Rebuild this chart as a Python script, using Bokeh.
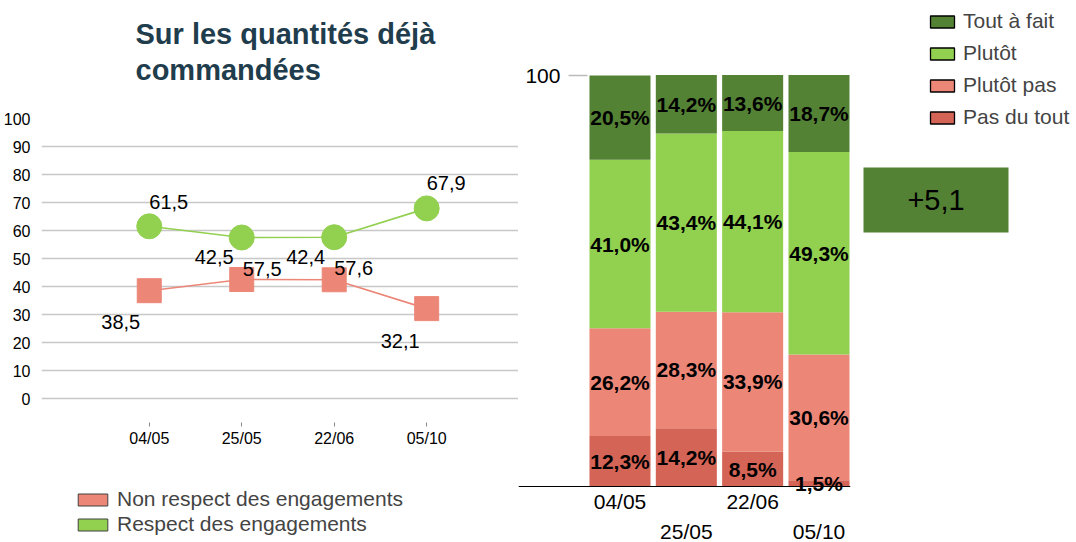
import numpy as np
from bokeh.plotting import figure
from bokeh.models import (ColumnDataSource, Range1d, LinearAxis, FixedTicker,
                          Legend, LegendItem, Label, BoxAnnotation)
from bokeh.layouts import row, column
from bokeh.embed import file_html
from bokeh.resources import INLINE
from bokeh.core.properties import value

# ---------------- data ----------------
title_lines = ["Sur les quantités déjà", "commandées"]
dates = ["04/05", "25/05", "22/06", "05/10"]
respect = [61.5, 57.5, 57.6, 67.9]
non_respect = [38.5, 42.5, 42.4, 32.1]
left_y_ticks = [0, 10, 20, 30, 40, 50, 60, 70, 80, 90, 100]
left_legend_labels = ["Non respect des engagements", "Respect des engagements"]

bar_series = ["Pas du tout", "Plutôt pas", "Plutôt", "Tout à fait"]
pas_du_tout = [12.3, 14.2, 8.5, 1.5]
plutot_pas = [26.2, 28.3, 33.9, 30.6]
plutot = [41.0, 43.4, 44.1, 49.3]
tout_a_fait = [20.5, 14.2, 13.6, 18.7]
right_y_ticks = [100]
delta_label = "+5,1"

# ---------------- styles ----------------
GREEN = "#92D050"
DKGREEN = "#548235"
SALMON = "#EC8778"
DKSALMON = "#D46456"
FONT = "Liberation Sans"
NAN = float("nan")


def fr(v):
    return f"{v:.1f}".replace(".", ",")


def blank(w, h):
    p = figure(width=w, height=h, x_range=Range1d(0, w), y_range=Range1d(h, 0),
               x_axis_type=None, y_axis_type=None, output_backend="svg",
               toolbar_location=None, min_border=0, frame_align=False)
    p.outline_line_color = None
    return p


xs = list(range(1, len(dates) + 1))

# ---------------- title ----------------
pT = blank(518, 110)
for line, yy in zip(title_lines, [33, 69]):
    pT.add_layout(Label(x=135, y=yy, text=line, text_font=FONT, text_font_size="29px",
                        text_font_style="bold", text_color="#1F3D4D",
                        text_baseline="alphabetic"))

# ---------------- left chart ----------------
pL = figure(width=518, height=360, x_range=Range1d(-0.1654, 4.993),
            y_range=Range1d(-8.571, 100), output_backend="svg",
            toolbar_location=None, min_border_left=40, min_border_right=0,
            min_border_top=8, min_border_bottom=48, frame_align=False)
pL.outline_line_color = None
pL.xgrid.visible = False
pL.ygrid.ticker = FixedTicker(ticks=left_y_ticks)
pL.ygrid.grid_line_color = "#c8c8c8"
pL.ygrid.grid_line_width = 1.3

pL.yaxis.ticker = FixedTicker(ticks=left_y_ticks)
pL.yaxis.axis_line_color = None
pL.yaxis.major_tick_line_color = None
pL.yaxis.minor_tick_line_color = None
pL.yaxis.major_label_standoff = 5
pL.yaxis.major_label_text_font = FONT
pL.yaxis.major_label_text_font_size = "16px"
pL.yaxis.major_label_text_color = "black"

pL.xaxis.ticker = FixedTicker(ticks=xs)
pL.xaxis.major_label_overrides = {x: d for x, d in zip(xs, dates)}
pL.xaxis.axis_line_color = None
pL.xaxis.major_tick_in = 0
pL.xaxis.major_tick_out = 4
pL.xaxis.major_tick_line_color = "#888888"
pL.xaxis.minor_tick_line_color = None
pL.xaxis.major_label_standoff = 3
pL.xaxis.major_label_text_font = FONT
pL.xaxis.major_label_text_font_size = "16px"
pL.xaxis.major_label_text_color = "black"

pL.line(xs, respect, line_color=GREEN, line_width=1.6)
pL.line(xs, non_respect, line_color=SALMON, line_width=1.6)
pL.scatter(xs, respect, marker="circle", size=25, fill_color=GREEN, line_color=GREEN)
pL.scatter(xs, non_respect, marker="square", size=24, fill_color=SALMON, line_color=SALMON)

# label placement (screen offsets)
g_off_y = [-24, 31, 31, -25]
r_off_y = [31, -23, -23, 32]
lab_src = ColumnDataSource(dict(
    x=xs + xs,
    y=respect + non_respect,
    t=[fr(v) for v in respect] + [fr(v) for v in non_respect],
    xo=[0, 1, 0, 0] + [-48, -47, -48, -46],
    yo=g_off_y + r_off_y,
))
pL.text(x="x", y="y", text="t", x_offset="xo", y_offset="yo", source=lab_src,
        text_font=value(FONT), text_font_size="20px", text_color="black",
        text_align="left", text_baseline="alphabetic")

# ---------------- left legend ----------------
pLeg = blank(518, 72)
dl1 = pLeg.vbar(x=[NAN], top=[NAN], width=1, fill_color=SALMON, line_color="#404040", line_width=1)
dl2 = pLeg.vbar(x=[NAN], top=[NAN], width=1, fill_color=GREEN, line_color="#404040", line_width=1)
legL = Legend(items=[LegendItem(label=left_legend_labels[0], renderers=[dl1]),
                     LegendItem(label=left_legend_labels[1], renderers=[dl2])],
              location=(74, 6), glyph_width=37, glyph_height=15,
              label_text_font=FONT, label_text_font_size="21px", label_standoff=6,
              label_height=15, spacing=1, padding=0, margin=0,
              border_line_color=None, background_fill_alpha=0)
pLeg.add_layout(legL)

# ---------------- right chart ----------------
pR = figure(width=340, height=542, x_range=Range1d(-0.530, 4.475),
            y_range=Range1d(-13.625, 103.65), x_axis_type=None, y_axis_type=None,
            output_backend="svg", toolbar_location=None, frame_align=False,
            min_border_left=0, min_border_right=8, min_border_top=60, min_border_bottom=0)
pR.outline_line_color = None

src = ColumnDataSource(dict(x=xs, pas_du_tout=pas_du_tout, plutot_pas=plutot_pas,
                            plutot=plutot, tout_a_fait=tout_a_fait))
keys = ["pas_du_tout", "plutot_pas", "plutot", "tout_a_fait"]
pR.vbar_stack(keys, x="x", width=0.92, source=src,
              fill_color=[DKSALMON, SALMON, GREEN, DKGREEN], line_color=None)

stack = np.array([pas_du_tout, plutot_pas, plutot, tout_a_fait])
tops = np.cumsum(stack, axis=0)
mids = tops - stack / 2
bl = ColumnDataSource(dict(
    x=[x for _ in range(4) for x in xs],
    y=[float(m) for rowv in mids for m in rowv],
    t=[fr(v) + "%" for rowv in stack for v in rowv],
))
pR.text(x="x", y="y", text="t", source=bl, text_font=value(FONT),
        text_font_size="21px", text_font_style="bold", text_color="black",
        text_align="center", text_baseline="middle")

ax1 = LinearAxis(fixed_location=0, ticker=FixedTicker(ticks=xs[0::2]),
                 major_label_overrides={x: dates[x - 1] for x in xs[0::2]},
                 axis_line_color="black", axis_line_width=1.2,
                 major_tick_in=0, major_tick_out=0, minor_tick_line_color=None,
                 major_label_standoff=3, major_label_text_font=FONT,
                 major_label_text_font_size="21px", major_label_text_color="black")
ax2 = LinearAxis(fixed_location=0, ticker=FixedTicker(ticks=xs[1::2]),
                 major_label_overrides={x: dates[x - 1] for x in xs[1::2]},
                 axis_line_color=None,
                 major_tick_in=0, major_tick_out=0, minor_tick_line_color=None,
                 major_label_standoff=33, major_label_text_font=FONT,
                 major_label_text_font_size="21px", major_label_text_color="black")
pR.add_layout(ax1, "below")
pR.add_layout(ax2, "below")
ay = LinearAxis(fixed_location=0.51, ticker=FixedTicker(ticks=right_y_ticks),
                axis_line_color=None, major_tick_in=0, major_tick_out=19,
                major_tick_line_color="#bbbbbb", major_tick_line_width=1.5,
                minor_tick_line_color=None, major_label_standoff=8,
                major_label_text_font=FONT, major_label_text_font_size="21px",
                major_label_text_color="black")
pR.add_layout(ay, "left")

# ---------------- legend + delta box ----------------
pG = blank(218, 542)
colors = {"Pas du tout": DKSALMON, "Plutôt pas": SALMON, "Plutôt": GREEN, "Tout à fait": DKGREEN}
items = []
for name in reversed(bar_series):
    r = pG.vbar(x=[NAN], top=[NAN], width=1, fill_color=colors[name],
                line_color="black", line_width=1.3)
    items.append(LegendItem(label=name, renderers=[r]))
legG = Legend(items=items, location=(69, 413), glyph_width=30, glyph_height=15,
              label_text_font=FONT, label_text_font_size="21px", label_standoff=6,
              label_height=15, spacing=8, padding=0, margin=0,
              border_line_color=None, background_fill_alpha=0)
pG.add_layout(legG)
pG.add_layout(BoxAnnotation(left=5, right=150, top=167, bottom=232,
                            fill_color=DKGREEN, fill_alpha=1, line_color=None))
pG.add_layout(Label(x=77.5, y=199.5, text=delta_label, text_font=FONT,
                    text_font_size="29px", text_color="black",
                    text_align="center", text_baseline="middle"))

layout = row(column(pT, pL, pLeg), pR, pG)
open("out.html", "w").write(file_html(layout, INLINE))
